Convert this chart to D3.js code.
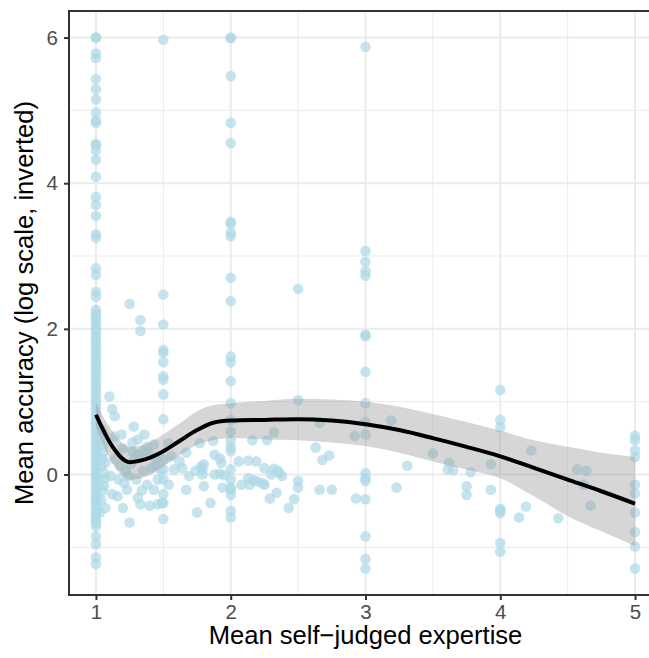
<!DOCTYPE html>
<html>
<head>
<meta charset="utf-8">
<script src="https://cdn.jsdelivr.net/npm/d3@7"></script>
<style>
  body { margin: 0; background: #fff; }
  text { font-family: "Liberation Sans", Arial, Helvetica, sans-serif; }
</style>
</head>
<body>
<div id="chart"></div>
<script>
// accuracy values of participants with expertise exactly at a column
var atOne = [6.0, 6.0, 5.78, 5.72, 5.43, 5.29, 5.15, 4.97, 4.86, 4.83, 4.54, 4.52, 4.45, 4.32,
  4.09, 3.81, 3.70, 3.55, 3.30, 3.25, 2.83, 2.74, 2.51, 2.44, 2.26, 2.21, 2.16, 2.12, 2.08,
  2.03, 1.98, 1.94, 1.88, 1.84, 1.79, 1.73, 1.69, 1.64, 1.58, 1.55, 1.49, 1.44, 1.39, 1.33,
  1.27, 1.22, 1.18, 1.12, 1.06, 1.01, 0.96, 0.91, 0.86, 0.80, 0.74, 0.69, 0.63, 0.58, 0.52,
  0.47, 0.41, 0.36, 0.31, 0.25, 0.20, 0.14, 0.09, 0.04, 0.0, -0.04, -0.09, -0.14, -0.19,
  -0.24, -0.29, -0.33, -0.38, -0.43, -0.48, -0.53, -0.57, -0.62, -0.66, -0.71, -0.85,
  -0.96, -1.14, -1.23];
var atOneHalf = [5.97, 2.47, 2.06, 1.71, 1.67, 1.54, 1.35, 1.30, 1.10, 0.76, 0.21, 0.07,
  -0.07, -0.27, -0.39, -0.61];
var atTwo = [6.0, 5.99, 5.47, 4.83, 4.55, 3.47, 3.44, 3.32, 3.27, 2.70, 2.38, 1.62, 1.54,
  1.28, 0.98, 0.75, 0.59, 0.46, 0.37, 0.32, 0.07, -0.07, -0.18, -0.21, -0.28, -0.50, -0.59];
var atTwoHalf = [2.55, 1.02, -0.09, -0.18];
var atThree = [5.87, 3.07, 2.92, 2.79, 2.73, 1.92, 1.90, 1.41, 0.98, 0.72, 0.55, 0.02,
  -0.05, -0.09, -0.34, -0.85, -1.16, -1.29];
var atFour = [1.16, 0.75, 0.65, -0.47, -0.50, -0.53, -0.94, -1.06];
var atFive = [0.53, 0.47, 0.33, 0.24, -0.14, -0.26, -0.52, -0.79, -0.99, -1.29];

// the rest of the participants (expertise, accuracy)
var otherX = [1.04, 1.03, 1.05, 1.04, 1.06, 1.03, 1.05, 1.04, 1.03, 1.06, 1.05, 1.07, 1.06,
  1.07, 1.05, 1.07, 1.11, 1.12, 1.10, 1.12, 1.14, 1.28, 1.36, 1.31, 1.14, 1.25, 1.33, 1.33,
  1.43, 1.20, 1.27, 1.32, 1.40, 1.54, 1.56, 1.62, 1.67, 1.77, 1.87, 1.88, 1.92, 1.93, 2.06,
  1.58, 1.64, 1.69, 1.74, 1.79, 1.80, 1.78, 1.79, 1.88, 1.92, 1.95, 1.67, 1.80, 1.85, 1.75,
  1.94, 2.08, 1.20, 1.25, 1.23, 1.31, 1.33, 1.40, 1.46, 1.49, 1.43, 1.38, 1.46, 1.30, 1.17,
  1.48, 1.41, 1.54, 1.14, 1.45, 1.18, 1.22, 1.26, 1.35, 1.29, 1.38, 1.24, 1.34, 1.16, 1.21,
  1.44, 1.27, 1.35, 1.19, 2.66, 2.32, 2.27, 2.16, 2.92, 2.63, 2.73, 2.68, 3.19, 3.50, 3.31,
  3.23, 2.13, 2.19, 2.25, 2.32, 2.36, 2.38, 2.30, 2.13, 2.14, 2.25, 2.34, 2.29, 2.47, 2.43,
  2.66, 2.75, 2.93, 2.20, 2.17, 2.24, 2.35, 3.62, 3.61, 3.65, 3.78, 3.75, 3.75, 3.93, 3.93,
  4.14, 4.19, 4.23, 4.43, 4.57, 4.64, 4.62, 4.67];
var otherY = [0.62, 0.45, 0.30, 0.12, 0.02, -0.08, -0.22, -0.35, -0.52, 0.55, 0.22, -0.05,
  -0.16, -0.46, 0.39, 0.16, -0.02, -0.27, 1.07, 0.90, 0.80, 0.66, 0.55, 0.48, 0.52, 2.34,
  2.12, 1.97, 0.41, 0.36, 0.32, 0.27, 0.27, 0.43, 0.25, 0.18, 0.30, 0.43, 0.46, 0.27, 0.22,
  0.16, 0.18, 0.07, 0.09, -0.02, 0.05, 0.07, 0.14, 0.11, 0.0, 0.0, 0.01, -0.01, -0.21,
  -0.16, -0.39, -0.52, -0.18, -0.14, -0.46, -0.66, -0.21, -0.32, -0.41, -0.43, -0.41, -0.39,
  -0.21, -0.14, -0.07, -0.07, -0.07, 0.07, 0.09, -0.14, 0.21, 0.21, 0.12, 0.05, 0.15, 0.05,
  0.22, 0.38, -0.02, -0.22, -0.30, -0.12, 0.12, 0.44, 0.32, 0.55, 0.71, 0.58, 0.47, 0.47,
  0.53, 0.37, 0.26, 0.20, 0.74, 0.29, 0.12, -0.18, 0.19, 0.18, 0.09, 0.08, 0.02, -0.02, 0.0,
  -0.05, -0.14, -0.14, -0.25, -0.33, -0.34, -0.46, -0.21, -0.21, -0.33, -0.10, -0.08, -0.12,
  0.05, 0.16, 0.07, 0.06, 0.03, -0.16, -0.28, 0.14, -0.21, -0.59, -0.44, 0.33, -0.60, 0.07,
  0.05, -0.14, -0.43];

// loess fit and its confidence band
var smoothX = [1.0, 1.12, 1.25, 1.37, 1.5, 1.62, 1.75, 1.87, 2.0, 2.25, 2.5, 2.75, 3.0,
  3.25, 3.5, 3.75, 4.0, 4.25, 4.5, 4.75, 5.0];
var smoothY = [0.82, 0.39, 0.17, 0.21, 0.32, 0.46, 0.61, 0.71, 0.74, 0.75, 0.76, 0.74, 0.69,
  0.61, 0.50, 0.38, 0.25, 0.09, -0.07, -0.23, -0.40];
var smoothLo = [0.66, 0.16, -0.07, -0.03, 0.11, 0.26, 0.41, 0.47, 0.50, 0.48, 0.47, 0.44,
  0.39, 0.30, 0.18, 0.07, -0.05, -0.30, -0.57, -0.78, -0.98];
var smoothHi = [0.98, 0.60, 0.38, 0.42, 0.55, 0.70, 0.87, 0.95, 0.98, 1.01, 1.04, 1.03,
  1.00, 0.93, 0.83, 0.72, 0.60, 0.47, 0.38, 0.30, 0.24];

var xMajor = [1, 2, 3, 4, 5];
var xMinor = [1.5, 2.5, 3.5, 4.5];
var yMajor = [0, 2, 4, 6];
var yMinor = [-1, 1, 3, 5];

var width = 649, height = 658;
var margin = {top: 11, right: -13, bottom: 63, left: 69};
var innerW = width - margin.left - margin.right,
    innerH = height - margin.top - margin.bottom;

// build the point table
var points = [];
function addColumn(xv, ys) {
  ys.forEach(function(v) { points.push({x: xv, y: v}); });
}
addColumn(1, atOne);
addColumn(1.5, atOneHalf);
addColumn(2, atTwo);
addColumn(2.5, atTwoHalf);
addColumn(3, atThree);
addColumn(4, atFour);
addColumn(5, atFive);
otherX.forEach(function(v, i) { points.push({x: v, y: otherY[i]}); });

var smooth = smoothX.map(function(v, i) {
  return {x: v, y: smoothY[i], lo: smoothLo[i], hi: smoothHi[i]};
});

// ggplot style 5% expansion
var xExt = d3.extent(points, function(d) { return d.x; }),
    yExt = d3.extent(points, function(d) { return d.y; });
var xPad = (xExt[1] - xExt[0]) * 0.05,
    yPad = (yExt[1] - yExt[0]) * 0.05;

var x = d3.scaleLinear()
  .domain([xExt[0] - xPad, xExt[1] + xPad])
  .range([0, innerW]);
var y = d3.scaleLinear()
  .domain([yExt[0] - yPad, yExt[1] + yPad])
  .range([innerH, 0]);

var svg = d3.select("#chart")
  .append("svg")
    .attr("width", width)
    .attr("height", height)
  .append("g")
    .attr("transform", "translate(" + margin.left + "," + margin.top + ")");

svg.append("rect")
  .attr("width", innerW)
  .attr("height", innerH)
  .attr("fill", "#fff");

// grid
svg.selectAll(".minor-x").data(xMinor).enter().append("line")
  .attr("x1", function(d) { return x(d); }).attr("x2", function(d) { return x(d); })
  .attr("y1", 0).attr("y2", innerH)
  .attr("stroke", "#ebebeb").attr("stroke-width", 1);
svg.selectAll(".minor-y").data(yMinor).enter().append("line")
  .attr("y1", function(d) { return y(d); }).attr("y2", function(d) { return y(d); })
  .attr("x1", 0).attr("x2", innerW)
  .attr("stroke", "#ebebeb").attr("stroke-width", 1);
svg.selectAll(".major-x").data(xMajor).enter().append("line")
  .attr("x1", function(d) { return x(d); }).attr("x2", function(d) { return x(d); })
  .attr("y1", 0).attr("y2", innerH)
  .attr("stroke", "#ebebeb").attr("stroke-width", 2);
svg.selectAll(".major-y").data(yMajor).enter().append("line")
  .attr("y1", function(d) { return y(d); }).attr("y2", function(d) { return y(d); })
  .attr("x1", 0).attr("x2", innerW)
  .attr("stroke", "#ebebeb").attr("stroke-width", 2);

// points
svg.append("g").selectAll("circle")
  .data(points)
  .enter()
  .append("circle")
    .attr("cx", function(d) { return x(d.x); })
    .attr("cy", function(d) { return y(d.y); })
    .attr("r", 5.3)
    .attr("fill", "lightblue")
    .attr("fill-opacity", 0.7);

// smoother
svg.append("path")
  .datum(smooth)
  .attr("fill", "#999999")
  .attr("fill-opacity", 0.4)
  .attr("d", d3.area()
    .curve(d3.curveMonotoneX)
    .x(function(d) { return x(d.x); })
    .y0(function(d) { return y(d.lo); })
    .y1(function(d) { return y(d.hi); }));

svg.append("path")
  .datum(smooth)
  .attr("fill", "none")
  .attr("stroke", "#000")
  .attr("stroke-width", 4)
  .attr("d", d3.line()
    .curve(d3.curveMonotoneX)
    .x(function(d) { return x(d.x); })
    .y(function(d) { return y(d.y); }));

// panel border
svg.append("rect")
  .attr("width", innerW)
  .attr("height", innerH)
  .attr("fill", "none")
  .attr("stroke", "#333")
  .attr("stroke-width", 2);

// axes
var xAxis = svg.append("g")
  .attr("transform", "translate(0," + innerH + ")")
  .call(d3.axisBottom(x).tickValues(xMajor).tickSize(5).tickPadding(4).tickFormat(d3.format("d")));
var yAxis = svg.append("g")
  .call(d3.axisLeft(y).tickValues(yMajor).tickSize(5).tickPadding(6).tickFormat(d3.format("d")));

[xAxis, yAxis].forEach(function(a) {
  a.select(".domain").remove();
  a.selectAll(".tick line").attr("stroke", "#333").attr("stroke-width", 2);
  a.selectAll(".tick text")
    .attr("fill", "#4d4d4d")
    .style("font-size", "20.5px")
    .style("font-family", "'Liberation Sans', Arial, sans-serif");
});

svg.append("text")
  .attr("x", x(3))
  .attr("y", innerH + 49)
  .attr("text-anchor", "middle")
  .style("font-size", "25.6px")
  .text("Mean self\u2212judged expertise");

svg.append("text")
  .attr("transform", "rotate(-90)")
  .attr("x", -innerH / 2)
  .attr("y", -36)
  .attr("text-anchor", "middle")
  .style("font-size", "25.6px")
  .text("Mean accuracy (log scale, inverted)");
</script>
</body>
</html>
